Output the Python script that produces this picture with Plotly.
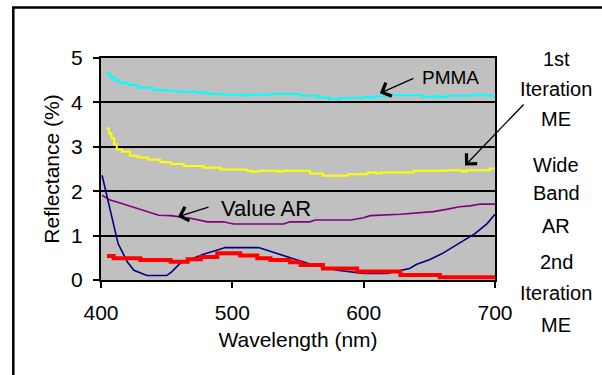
import plotly.graph_objects as go

# ---------------- data ----------------
pmma_x = [404, 407, 410, 414, 421, 428, 440, 450, 458, 473, 482, 493, 510, 512, 529, 552,
          565, 574, 582, 600, 605, 608, 618, 645, 655, 658, 663, 685, 693, 700]
pmma_y = [4.65, 4.57, 4.50, 4.44, 4.39, 4.33, 4.28, 4.26, 4.24, 4.22, 4.19, 4.17, 4.15, 4.17, 4.19, 4.15,
          4.11, 4.07, 4.10, 4.13, 4.10, 4.14, 4.16, 4.13, 4.15, 4.12, 4.15, 4.18, 4.15, 4.15]

me1_x = [404, 406, 408, 410, 412, 416, 422, 428, 436, 445, 453, 463, 478, 491, 511, 515, 520,
         535, 538, 559, 569, 588, 603, 610, 613, 638, 664, 675, 678, 696, 701]
me1_y = [3.41, 3.30, 3.19, 3.06, 2.94, 2.89, 2.80, 2.76, 2.71, 2.66, 2.61, 2.57, 2.53, 2.49, 2.46, 2.44, 2.46,
         2.44, 2.46, 2.40, 2.35, 2.38, 2.42, 2.40, 2.42, 2.46, 2.47, 2.44, 2.47, 2.51, 2.51]

value_x = [400.8, 407, 417, 430, 444, 453, 468, 481, 493, 501, 539, 544, 559, 563, 590, 600, 605,
           628, 641, 653, 663, 673, 681, 689, 700]
value_y = [1.91, 1.80, 1.71, 1.59, 1.46, 1.45, 1.39, 1.31, 1.31, 1.26, 1.26, 1.31, 1.31, 1.35, 1.35, 1.40, 1.45,
           1.48, 1.52, 1.54, 1.59, 1.65, 1.67, 1.71, 1.71]

wide_x = [400.8, 404.6, 408, 413, 420, 425, 435, 450, 454, 460, 468, 478, 488, 494.6, 520, 534, 549,
          559, 580, 600, 617.6, 625, 635, 640, 650.5, 660.7, 671, 680, 685, 694, 700]
wide_y = [2.36, 1.87, 1.39, 0.82, 0.41, 0.22, 0.10, 0.10, 0.19, 0.37, 0.46, 0.58, 0.67, 0.73, 0.73, 0.60, 0.47,
          0.36, 0.22, 0.15, 0.15, 0.19, 0.26, 0.35, 0.46, 0.61, 0.79, 0.96, 1.05, 1.27, 1.48]

me2_x = [404.6, 409.6, 430, 453, 466, 476, 488.5, 506, 519, 529, 544, 552, 569, 595, 628, 658, 701]
me2_y = [0.54, 0.49, 0.45, 0.41, 0.47, 0.52, 0.60, 0.55, 0.49, 0.45, 0.40, 0.34, 0.26, 0.19, 0.11, 0.06, 0.06]

series_names = ["PMMA", "1st Iteration ME", "Value AR", "Wide Band AR", "2nd Iteration ME"]
x_ticks = [400, 500, 600, 700]
y_ticks = [0, 1, 2, 3, 4, 5]

FONT = "Liberation Sans, Arial, sans-serif"

fig = go.Figure()
fig.add_trace(go.Scatter(x=pmma_x, y=pmma_y, mode="lines", line=dict(color="#00FFFF", width=2, shape="hv"),
                         name=series_names[0]))
fig.add_trace(go.Scatter(x=me1_x, y=me1_y, mode="lines", line=dict(color="#FFFF00", width=2, shape="hv"),
                         name=series_names[1]))
fig.add_trace(go.Scatter(x=value_x, y=value_y, mode="lines", line=dict(color="#800080", width=1.6),
                         name=series_names[2]))
fig.add_trace(go.Scatter(x=wide_x, y=wide_y, mode="lines", line=dict(color="#000080", width=1.6),
                         name=series_names[3]))
fig.add_trace(go.Scatter(x=me2_x, y=me2_y, mode="lines", line=dict(color="#FF0000", width=4, shape="hv"),
                         name=series_names[4]))

ann = []
def txt(t, x, y, size=20):
    ann.append(dict(text=t, xref="paper", yref="paper", x=x, y=y, showarrow=False,
                    xanchor="center", yanchor="middle", font=dict(size=size, color="black", family=FONT)))

txt("PMMA", 0.888, 0.910, 19)
txt("Value AR", 0.418, 0.324, 22)
rx = 1.156
for t, y in [("1st", 0.997), ("Iteration", 0.860), ("ME", 0.725),
             ("Wide", 0.519), ("Band", 0.390), ("AR", 0.244),
             ("2nd", 0.080), ("Iteration", -0.059), ("ME", -0.203)]:
    txt(t, rx, y)

def arrow(x, y, ax, ay):
    ann.append(dict(text="", x=x, y=y, xref="x", yref="y", ax=ax, ay=ay, axref="pixel", ayref="pixel",
                    showarrow=True, arrowhead=4, arrowsize=2.2, arrowwidth=1.3, arrowcolor="black",
                    standoff=0, startstandoff=0))

arrow(612.4, 4.205, 35, -15.6)
arrow(677.2, 2.579, 60, -62.5)
arrow(702.3, 1.464, 27, -16)
arrow(702.3, 0.0, 27, -16)
arrow(458.6, 1.426, 32, -10)

fig.update_layout(
    width=602, height=375,
    margin=dict(l=101, r=107, t=58, b=95),
    paper_bgcolor="white", plot_bgcolor="#C0C0C0",
    showlegend=False,
    font=dict(family=FONT, size=20, color="black"),
    annotations=ann,
    shapes=[dict(type="rect", xref="paper", yref="paper", x0=-0.2226, x1=1.31, y0=-0.5, y1=1.228,
                 line=dict(color="black", width=2.5), fillcolor="rgba(0,0,0,0)", layer="above")],
)
fig.update_xaxes(range=[400, 700], tickvals=x_ticks, ticks="outside", ticklen=6, tickwidth=2,
                 tickcolor="black", showline=True, linecolor="black", linewidth=2, mirror=True,
                 showgrid=False, zeroline=False, ticklabelstandoff=7,
                 title=dict(text="Wavelength (nm)", font=dict(size=21), standoff=9),
                 tickfont=dict(size=21))
fig.update_yaxes(range=[0, 5], tickvals=y_ticks, ticks="outside", ticklen=6, tickwidth=2,
                 tickcolor="black", showline=True, linecolor="black", linewidth=2, mirror=True,
                 showgrid=True, gridcolor="black", gridwidth=1.5, zeroline=False, ticklabelstandoff=6,
                 title=dict(text="Reflectance (%)", font=dict(size=21), standoff=6),
                 tickfont=dict(size=21))

fig.write_html("out.html", config={"displayModeBar": False},
               post_script="document.body.style.margin='0';document.body.style.overflow='hidden';")
